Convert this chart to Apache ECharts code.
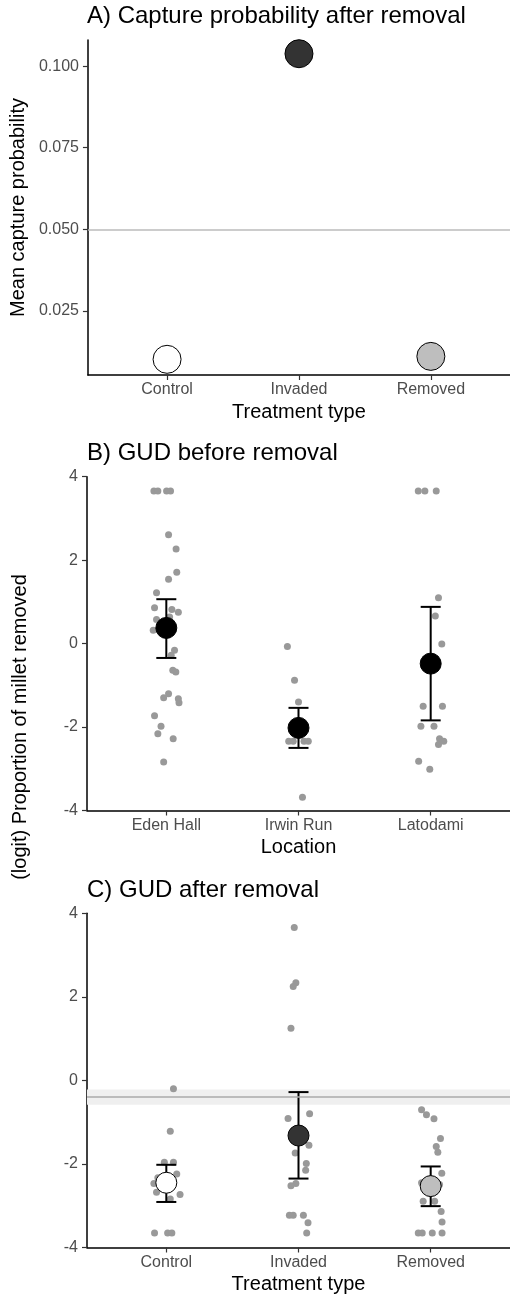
<!DOCTYPE html>
<html>
<head>
<meta charset="utf-8">
<script src="https://cdn.jsdelivr.net/npm/echarts@6/dist/echarts.min.js"></script>
<style>
  html, body { margin: 0; padding: 0; background: #fff; }
  #chart { width: 510px; height: 1296px; }
</style>
</head>
<body>
<div id="chart"></div>
<script>
// categories
var treatments = ['Control', 'Invaded', 'Removed'];
var locations = ['Eden Hall', 'Irwin Run', 'Latodami'];
var meanFills = ['#ffffff', '#333333', '#bebebe'];

// A) capture probability
var captureMean = [0.0102, 0.1038, 0.0111];
var captureRef = 0.051;
var captureTicks = [0.025, 0.050, 0.075, 0.100];

// B) GUD before removal: raw points (value, jitter) and means
var edenVals = [3.656, 3.656, 3.656, 3.656, 2.61, 2.27, 1.71, 1.54, 1.22, 0.86, 0.82, 0.75, 0.58, 0.64, 0.32, -0.16, -0.28, -0.64, -0.68, -1.2, -1.3, -1.32, -1.42, -1.73, -1.98, -2.16, -2.28, -2.84];
var edenJit = [-0.094, -0.064, 0.002, 0.032, 0.017, 0.074, 0.079, 0.017, -0.074, -0.089, 0.042, 0.091, -0.074, 0.025, -0.099, 0.062, 0.037, 0.049, 0.072, 0.017, -0.020, 0.091, 0.096, -0.089, -0.040, -0.064, 0.052, -0.020];
var irwinVals = [-0.07, -0.88, -1.40, -2.34, -2.34, -2.34, -2.34, -3.68];
var irwinJit = [-0.084, -0.030, 0, -0.074, -0.040, 0.042, 0.074, 0.030];
var latoVals = [3.656, 3.656, 3.656, 1.10, 0.66, -0.01, -1.50, -1.50, -1.98, -1.98, -2.28, -2.34, -2.42, -2.82, -3.01];
var latoJit = [-0.094, -0.044, 0.042, 0.059, 0.035, 0.084, -0.057, 0.089, -0.074, 0.025, 0.067, 0.099, 0.059, -0.091, -0.007];
var beforeMean = [0.376, -2.02, -0.48];
var beforeLow = [-0.344, -2.50, -1.84];
var beforeHigh = [1.064, -1.54, 0.88];

// C) GUD after removal
var ctrlVals = [-0.20, -1.22, -1.96, -1.96, -2.24, -2.33, -2.47, -2.68, -2.73, -2.84, -3.65, -3.65, -3.65];
var ctrlJit = [0.054, 0.030, -0.015, 0.054, 0.079, -0.064, -0.094, -0.074, 0.104, 0.030, -0.089, 0.010, 0.042];
var invVals = [3.66, 2.34, 2.25, 1.25, -0.91, -0.80, -1.55, -1.74, -1.99, -2.15, -2.47, -2.52, -3.23, -3.23, -3.23, -3.41, -3.65];
var invJit = [-0.032, -0.020, -0.040, -0.057, -0.079, 0.084, 0.079, -0.025, 0.059, 0.054, -0.020, -0.057, -0.069, -0.040, 0.037, 0.072, 0.062];
var remVals = [-0.70, -0.82, -0.92, -1.39, -1.58, -1.72, -2.22, -2.45, -2.49, -2.89, -2.89, -3.14, -3.39, -3.65, -3.65, -3.65, -3.65];
var remJit = [-0.069, -0.032, 0.025, 0.074, 0.042, 0.054, 0.084, -0.069, 0.067, -0.057, 0.030, 0.079, 0.086, -0.094, -0.064, 0.012, 0.086];
var afterMean = [-2.45, -1.32, -2.53];
var afterLow = [-2.91, -2.35, -3.01];
var afterHigh = [-2.02, -0.28, -2.06];
var afterRef = -0.40;
var afterRefBand = [-0.58, -0.22];

var FONT = 'Liberation Sans, Arial, sans-serif';

function jitterPoints(groups) {
  var out = [];
  groups.forEach(function (g, i) {
    g[0].forEach(function (v, k) { out.push([i + 1 + g[1][k], v]); });
  });
  return out;
}

function meanPoints(means, fills) {
  return means.map(function (m, i) {
    return { value: [i + 1, m], itemStyle: { color: fills[i] } };
  });
}

function barData(low, high) {
  return low.map(function (l, i) { return [i + 1, l, high[i]]; });
}

function errorBarItem(params, api) {
  var x = api.value(0);
  var lo = api.coord([x, api.value(1)]);
  var hi = api.coord([x, api.value(2)]);
  var hw = 10;
  var st = { stroke: '#000', lineWidth: 2 };
  return {
    type: 'group',
    children: [
      { type: 'line', shape: { x1: lo[0], y1: lo[1], x2: hi[0], y2: hi[1] }, style: st },
      { type: 'line', shape: { x1: hi[0] - hw, y1: hi[1], x2: hi[0] + hw, y2: hi[1] }, style: st },
      { type: 'line', shape: { x1: lo[0] - hw, y1: lo[1], x2: lo[0] + hw, y2: lo[1] }, style: st }
    ]
  };
}

function makeX(idx, labels, name) {
  return {
    type: 'value', gridIndex: idx, min: 0.4, max: 3.6,
    axisLine: { show: true, onZero: false, lineStyle: { color: '#000', width: 1.5 } },
    axisTick: { show: true, length: 5, lineStyle: { color: '#333', width: 1.2 }, customValues: [1, 2, 3] },
    axisLabel: {
      show: true, customValues: [1, 2, 3], margin: 7,
      fontSize: 16, color: '#4d4d4d', fontFamily: FONT,
      formatter: function (v) { return labels[Math.round(v) - 1]; }
    },
    splitLine: { show: false },
    name: name, nameLocation: 'middle', nameGap: 27,
    nameTextStyle: { fontSize: 20, color: '#000', fontFamily: FONT }
  };
}

function makeY(idx, extra) {
  var ax = {
    type: 'value', gridIndex: idx,
    axisLine: { show: true, onZero: false, lineStyle: { color: '#000', width: 1.5 } },
    axisTick: { show: true, length: 5, lineStyle: { color: '#333', width: 1.2 } },
    axisLabel: { margin: 9, fontSize: 16, color: '#4d4d4d', fontFamily: FONT },
    splitLine: { show: false }
  };
  return Object.assign(ax, extra);
}

var chart = echarts.init(document.getElementById('chart'), null, { renderer: 'canvas' });

var option = {
  backgroundColor: '#fff',
  animation: false,
  title: [
    { text: 'A) Capture probability after removal', left: 87, top: 4 },
    { text: 'B) GUD before removal', left: 87, top: 441 },
    { text: 'C) GUD after removal', left: 87, top: 878 }
  ].map(function (t) {
    t.padding = 0;
    t.textStyle = { fontSize: 24, fontWeight: 'normal', color: '#000', fontFamily: FONT };
    return t;
  }),
  grid: [
    { left: 87, right: -9, top: 40, bottom: 921 },
    { left: 87, right: -9, top: 476.7, bottom: 485.5 },
    { left: 87, right: -9, top: 913.3, bottom: 48.5 }
  ],
  xAxis: [
    makeX(0, treatments, 'Treatment type'),
    makeX(1, locations, 'Location'),
    makeX(2, treatments, 'Treatment type')
  ],
  yAxis: [
    makeY(0, {
      min: 0.0054, max: 0.108,
      axisTick: { show: true, length: 5, lineStyle: { color: '#333', width: 1.2 }, customValues: captureTicks },
      axisLabel: {
        margin: 9, fontSize: 16, color: '#4d4d4d', fontFamily: FONT, customValues: captureTicks,
        formatter: function (v) { return v.toFixed(3); }
      },
      name: 'Mean capture probability', nameLocation: 'middle', nameGap: 51,
      nameTextStyle: { fontSize: 20, color: '#000', fontFamily: FONT }
    }),
    makeY(1, { min: -4, max: 4, interval: 2 }),
    makeY(2, { min: -4, max: 4, interval: 2 })
  ],
  graphic: [{
    type: 'text', x: 20, y: 727, rotation: Math.PI / 2,
    style: {
      text: '(logit) Proportion of millet removed', fontSize: 20, fontFamily: FONT,
      fill: '#000', align: 'center', verticalAlign: 'middle'
    }
  }],
  series: [
    // A
    {
      type: 'scatter', xAxisIndex: 0, yAxisIndex: 0, data: [], z: 1, silent: true,
      markLine: {
        silent: true, symbol: 'none', label: { show: false },
        lineStyle: { color: '#bbbbbb', width: 1.5, type: 'solid' },
        data: [{ yAxis: captureRef }]
      }
    },
    {
      type: 'scatter', xAxisIndex: 0, yAxisIndex: 0, z: 5, symbolSize: 28,
      itemStyle: { borderColor: '#000', borderWidth: 1, opacity: 1 },
      data: meanPoints(captureMean, meanFills)
    },
    // B
    {
      type: 'scatter', xAxisIndex: 1, yAxisIndex: 1, z: 2, symbolSize: 7,
      itemStyle: { color: '#999999', opacity: 1 },
      data: jitterPoints([[edenVals, edenJit], [irwinVals, irwinJit], [latoVals, latoJit]])
    },
    {
      type: 'custom', xAxisIndex: 1, yAxisIndex: 1, z: 3,
      renderItem: errorBarItem, data: barData(beforeLow, beforeHigh)
    },
    {
      type: 'scatter', xAxisIndex: 1, yAxisIndex: 1, z: 4, symbolSize: 21,
      itemStyle: { color: '#000', borderColor: '#000', borderWidth: 1, opacity: 1 },
      data: meanPoints(beforeMean, ['#000', '#000', '#000'])
    },
    // C
    {
      type: 'scatter', xAxisIndex: 2, yAxisIndex: 2, data: [], z: 1, silent: true,
      markArea: {
        silent: true,
        itemStyle: { color: '#efefef', opacity: 1 },
        data: [[{ yAxis: afterRefBand[0] }, { yAxis: afterRefBand[1] }]]
      },
      markLine: {
        silent: true, symbol: 'none', label: { show: false },
        lineStyle: { color: '#aaaaaa', width: 1.5, type: 'solid' },
        data: [{ yAxis: afterRef }]
      }
    },
    {
      type: 'scatter', xAxisIndex: 2, yAxisIndex: 2, z: 2, symbolSize: 7,
      itemStyle: { color: '#999999', opacity: 1 },
      data: jitterPoints([[ctrlVals, ctrlJit], [invVals, invJit], [remVals, remJit]])
    },
    {
      type: 'custom', xAxisIndex: 2, yAxisIndex: 2, z: 3,
      renderItem: errorBarItem, data: barData(afterLow, afterHigh)
    },
    {
      type: 'scatter', xAxisIndex: 2, yAxisIndex: 2, z: 4, symbolSize: 21,
      itemStyle: { borderColor: '#000', borderWidth: 1, opacity: 1 },
      data: meanPoints(afterMean, meanFills)
    }
  ]
};

chart.setOption(option);
</script>
</body>
</html>
